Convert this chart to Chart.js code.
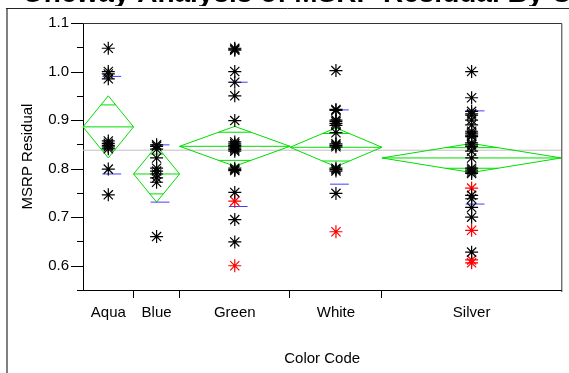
<!DOCTYPE html>
<html><head><meta charset="utf-8">
<script src="https://cdn.jsdelivr.net/npm/chart.js@4"></script>
<style>html,body{margin:0;padding:0;background:#fff}#wrap{width:569px;height:373px;position:relative}</style>
</head><body><div id="wrap"><canvas id="c" width="569" height="373"></canvas></div>
<script>
// ---------- data ----------
const categories = ['Aqua', 'Blue', 'Green', 'White', 'Silver'];
const groupCounts = [11, 10, 24, 20, 39];           // column widths (sample sizes)
const aquaBlack   = [1.048, 1.0, 0.995, 0.985, 0.857, 0.852, 0.848, 0.845, 0.841, 0.799, 0.746];
const blueBlack   = [0.849, 0.846, 0.840, 0.822, 0.801, 0.795, 0.789, 0.781, 0.772, 0.660];
const greenBlack  = [1.048, 1.046, 1.044, 1.0, 0.978, 0.950, 0.899, 0.855, 0.851, 0.848, 0.845, 0.842, 0.839, 0.836, 0.801, 0.798, 0.796, 0.751, 0.695, 0.649];
const greenRed    = [0.733, 0.600];
const whiteBlack  = [1.002, 0.922, 0.920, 0.900, 0.897, 0.893, 0.889, 0.874, 0.851, 0.848, 0.845, 0.801, 0.798, 0.795, 0.749];
const whiteRed    = [0.670];
const silverBlack = [1.0, 0.946, 0.918, 0.913, 0.910, 0.900, 0.890, 0.877, 0.873, 0.869, 0.866, 0.853, 0.849, 0.846, 0.836, 0.822, 0.801, 0.797, 0.793, 0.790, 0.745, 0.738, 0.720, 0.700, 0.628];
const silverRed   = [0.760, 0.673, 0.612, 0.606];
const groupMeans  = [0.886, 0.789, 0.846, 0.844, 0.822];
const ciHalf      = [0.064, 0.058, 0.041, 0.040, 0.030];
const sdUpper     = [0.990, 0.849, 0.978, 0.921, 0.919];
const sdLower     = [0.789, 0.731, 0.722, 0.768, 0.727];
const grandMean   = 0.838;
const yMin = 0.55, yMax = 1.1, yStep = 0.05;
const titleText = 'Oneway Analysis of MSRP Residual By Color Code';

// ---------- derived positions ----------
const bounds = [0];
groupCounts.forEach(n => bounds.push(bounds[bounds.length - 1] + n));
const total = bounds[bounds.length - 1];
const centers = groupCounts.map((n, i) => bounds[i] + n / 2);

const blackGroups = [aquaBlack, blueBlack, greenBlack, whiteBlack, silverBlack];
const redGroups = [[], [], greenRed, whiteRed, silverRed];

const GREEN = '#00dd00';
const datasets = [];
const blackPts = [], redPts = [];
blackGroups.forEach((arr, i) => arr.forEach(v => blackPts.push({x: centers[i], y: v})));
redGroups.forEach((arr, i) => arr.forEach(v => redPts.push({x: centers[i], y: v})));
const starStyle = {pointStyle: 'star', pointRadius: 6.5, pointBorderWidth: 1.2, showLine: false, order: 0};
datasets.push(Object.assign({data: blackPts, borderColor: '#000', backgroundColor: '#000'}, starStyle));
datasets.push(Object.assign({data: redPts, borderColor: '#ff0000', backgroundColor: '#ff0000'}, starStyle));

const lineStyle = (color, order, w) => ({showLine: true, pointRadius: 0, borderColor: color, borderWidth: w || 1, fill: false, tension: 0, order: order, spanGaps: false});

// std-dev ticks (blue)
const sdPts = [];
centers.forEach((c, i) => {
  [sdUpper[i], sdLower[i]].forEach(v => {
    sdPts.push({x: c - 1.3, y: v}, {x: c + 2.8, y: v}, {x: c, y: null});
  });
});
datasets.push(Object.assign({data: sdPts}, lineStyle('#4040ff', 1)));

// means diamonds
groupMeans.forEach((m, i) => {
  const x0 = bounds[i], x1 = bounds[i + 1], c = centers[i], h = ciHalf[i];
  datasets.push(Object.assign({data: [
    {x: x0, y: m}, {x: c, y: m + h}, {x: x1, y: m}, {x: c, y: m - h}, {x: x0, y: m}
  ]}, lineStyle(GREEN, 2)));
  const o = h / Math.SQRT2, hw = (x1 - x0) / 2 * (1 - 1 / Math.SQRT2);
  datasets.push(Object.assign({data: [
    {x: x0, y: m}, {x: x1, y: m}, {x: c, y: null},
    {x: c - hw, y: m + o}, {x: c + hw, y: m + o}, {x: c, y: null},
    {x: c - hw, y: m - o}, {x: c + hw, y: m - o}
  ]}, lineStyle(GREEN, 2)));
});

// grand mean
datasets.push(Object.assign({data: [{x: 0, y: grandMean}, {x: total, y: grandMean}]}, lineStyle('#c0c0c0', 3)));

// ---------- x ticks: boundaries (marks) + centers (labels) ----------
const xTickList = [];
bounds.forEach((b, i) => {
  xTickList.push({value: b, label: '', mark: i > 0 && i < bounds.length - 1});
  if (i < centers.length) xTickList.push({value: centers[i], label: categories[i], mark: false});
});

const FONT = "'Liberation Sans', Arial, sans-serif";

const framePlugin = {
  id: 'frame',
  beforeDraw(chart) {
    const ctx = chart.ctx;
    ctx.save(); ctx.fillStyle = '#fff'; ctx.fillRect(0, 0, chart.width, chart.height); ctx.restore();
  },
  afterDraw(chart) {
    const ctx = chart.ctx, a = chart.chartArea, ys = chart.scales.y;
    ctx.save();
    ctx.strokeStyle = '#333'; ctx.lineWidth = 1;
    ctx.beginPath();
    ctx.moveTo(a.left, a.top + 0.5); ctx.lineTo(a.right + 0.5, a.top + 0.5);
    ctx.lineTo(a.right + 0.5, a.bottom + 2);
    ctx.stroke();
    ctx.strokeStyle = '#000';
    ys.ticks.forEach(t => {
      const y = Math.round(ys.getPixelForValue(t.value)) + 0.5;
      const major = Math.round(t.value * 100) % 10 === 0;
      ctx.beginPath(); ctx.moveTo(a.left - (major ? 12 : 6), y); ctx.lineTo(a.left, y); ctx.stroke();
    });
    ctx.strokeStyle = '#808080'; ctx.lineWidth = 2;
    ctx.beginPath(); ctx.moveTo(7, 8); ctx.lineTo(7, chart.height); ctx.stroke();
    ctx.strokeStyle = '#222'; ctx.lineWidth = 1;
    ctx.beginPath(); ctx.moveTo(6, 8.5); ctx.lineTo(chart.width, 8.5); ctx.stroke();
    ctx.beginPath(); ctx.rect(0, 0, chart.width, 6); ctx.clip();
    ctx.fillStyle = '#000'; ctx.font = 'bold 28px ' + FONT; ctx.textBaseline = 'alphabetic';
    ctx.fillText(titleText, 22, 2);
    ctx.restore();
  }
};

new Chart(document.getElementById('c'), {
  type: 'scatter',
  data: {datasets},
  options: {
    responsive: false, animation: false, devicePixelRatio: 1,
    layout: {padding: {left: 0, top: 20, right: 5, bottom: 0}},
    plugins: {legend: {display: false}, tooltip: {enabled: false}},
    scales: {
      x: {
        type: 'linear', min: 0, max: total, position: 'bottom',
        afterFit(s) { s.height = 83; },
        afterBuildTicks(s) { s.ticks = xTickList.map(t => ({value: t.value})); },
        ticks: {
          autoSkip: false, maxRotation: 0, padding: 6, color: '#000',
          font: {family: FONT, size: 15},
          callback: (v, i) => xTickList[i] ? xTickList[i].label : ''
        },
        grid: {
          display: true, drawOnChartArea: false, drawTicks: true, tickLength: 8,
          tickColor: ctx => (xTickList[ctx.index] && xTickList[ctx.index].mark) ? '#000' : 'rgba(0,0,0,0)',
          tickWidth: 1
        },
        border: {display: true, color: '#000', width: 1},
        title: {display: true, text: 'Color Code', color: '#000', font: {family: FONT, size: 15}, padding: {top: 0, bottom: 5}}
      },
      y: {
        type: 'linear', min: yMin, max: yMax,
        afterFit(s) { s.width = 83; },
        ticks: {
          stepSize: yStep, padding: 14, color: '#000', font: {family: FONT, size: 15},
          callback: v => { const r = Math.round(v * 100); return r % 10 === 0 ? (r / 100).toFixed(1) : ''; }
        },
        grid: {display: true, drawOnChartArea: false, drawTicks: false},
        border: {display: true, color: '#000', width: 1},
        title: {display: true, text: 'MSRP Residual', color: '#000', font: {family: FONT, size: 15}, padding: {top: 19, bottom: 0}}
      }
    }
  },
  plugins: [framePlugin]
});
</script></body></html>
